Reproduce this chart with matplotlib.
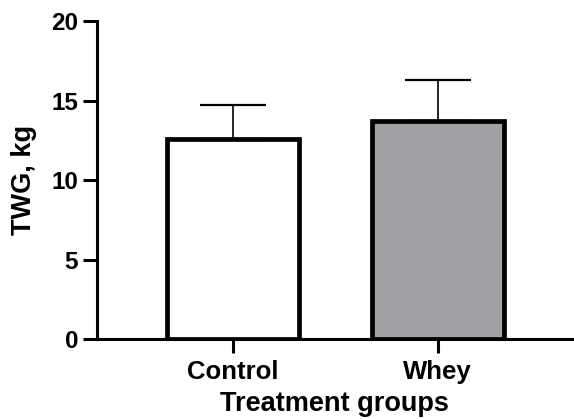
import matplotlib
matplotlib.use('Agg')
import matplotlib.pyplot as plt

groups = ['Control', 'Whey']
twg_mean = [12.6, 13.7]
twg_sd = [2.1, 2.6]
bar_colors = ['white', '#A0A0A4']

plt.rcParams['font.family'] = ['Liberation Sans', 'DejaVu Sans']
plt.rcParams['font.weight'] = 'bold'

fig = plt.figure(figsize=(5.74, 4.19), dpi=100)
ax = fig.add_axes([0.169, 0.19, 0.827, 0.760])

xs = range(len(groups))
ax.bar(xs, twg_mean, width=0.645, color=bar_colors, edgecolor='black',
       linewidth=3.4, zorder=2)
ax.errorbar(xs, twg_mean, yerr=[[0] * len(twg_sd), twg_sd], fmt='none',
            ecolor='black', elinewidth=1.2, capsize=24, capthick=1.6, zorder=1)

ax.set_xlim(-0.663, 1.655)
ax.set_ylim(0, 20)
ax.set_yticks([0, 5, 10, 15, 20])
ax.set_xticks(list(xs))
ax.set_xticklabels(groups)

for side in ['top', 'right']:
    ax.spines[side].set_visible(False)
for side in ['left', 'bottom']:
    ax.spines[side].set_linewidth(2.2)

ax.tick_params(axis='y', length=10, width=2.2, pad=3.5, labelsize=17.5)
ax.tick_params(axis='x', length=10, width=2.2, pad=5, labelsize=18.5)

ax.set_xlabel('Treatment groups', fontsize=19.5, fontweight='bold', labelpad=5)
ax.set_ylabel('TWG, kg', fontsize=19.5, fontweight='bold', labelpad=10)

fig.savefig('out.png', dpi=100)
